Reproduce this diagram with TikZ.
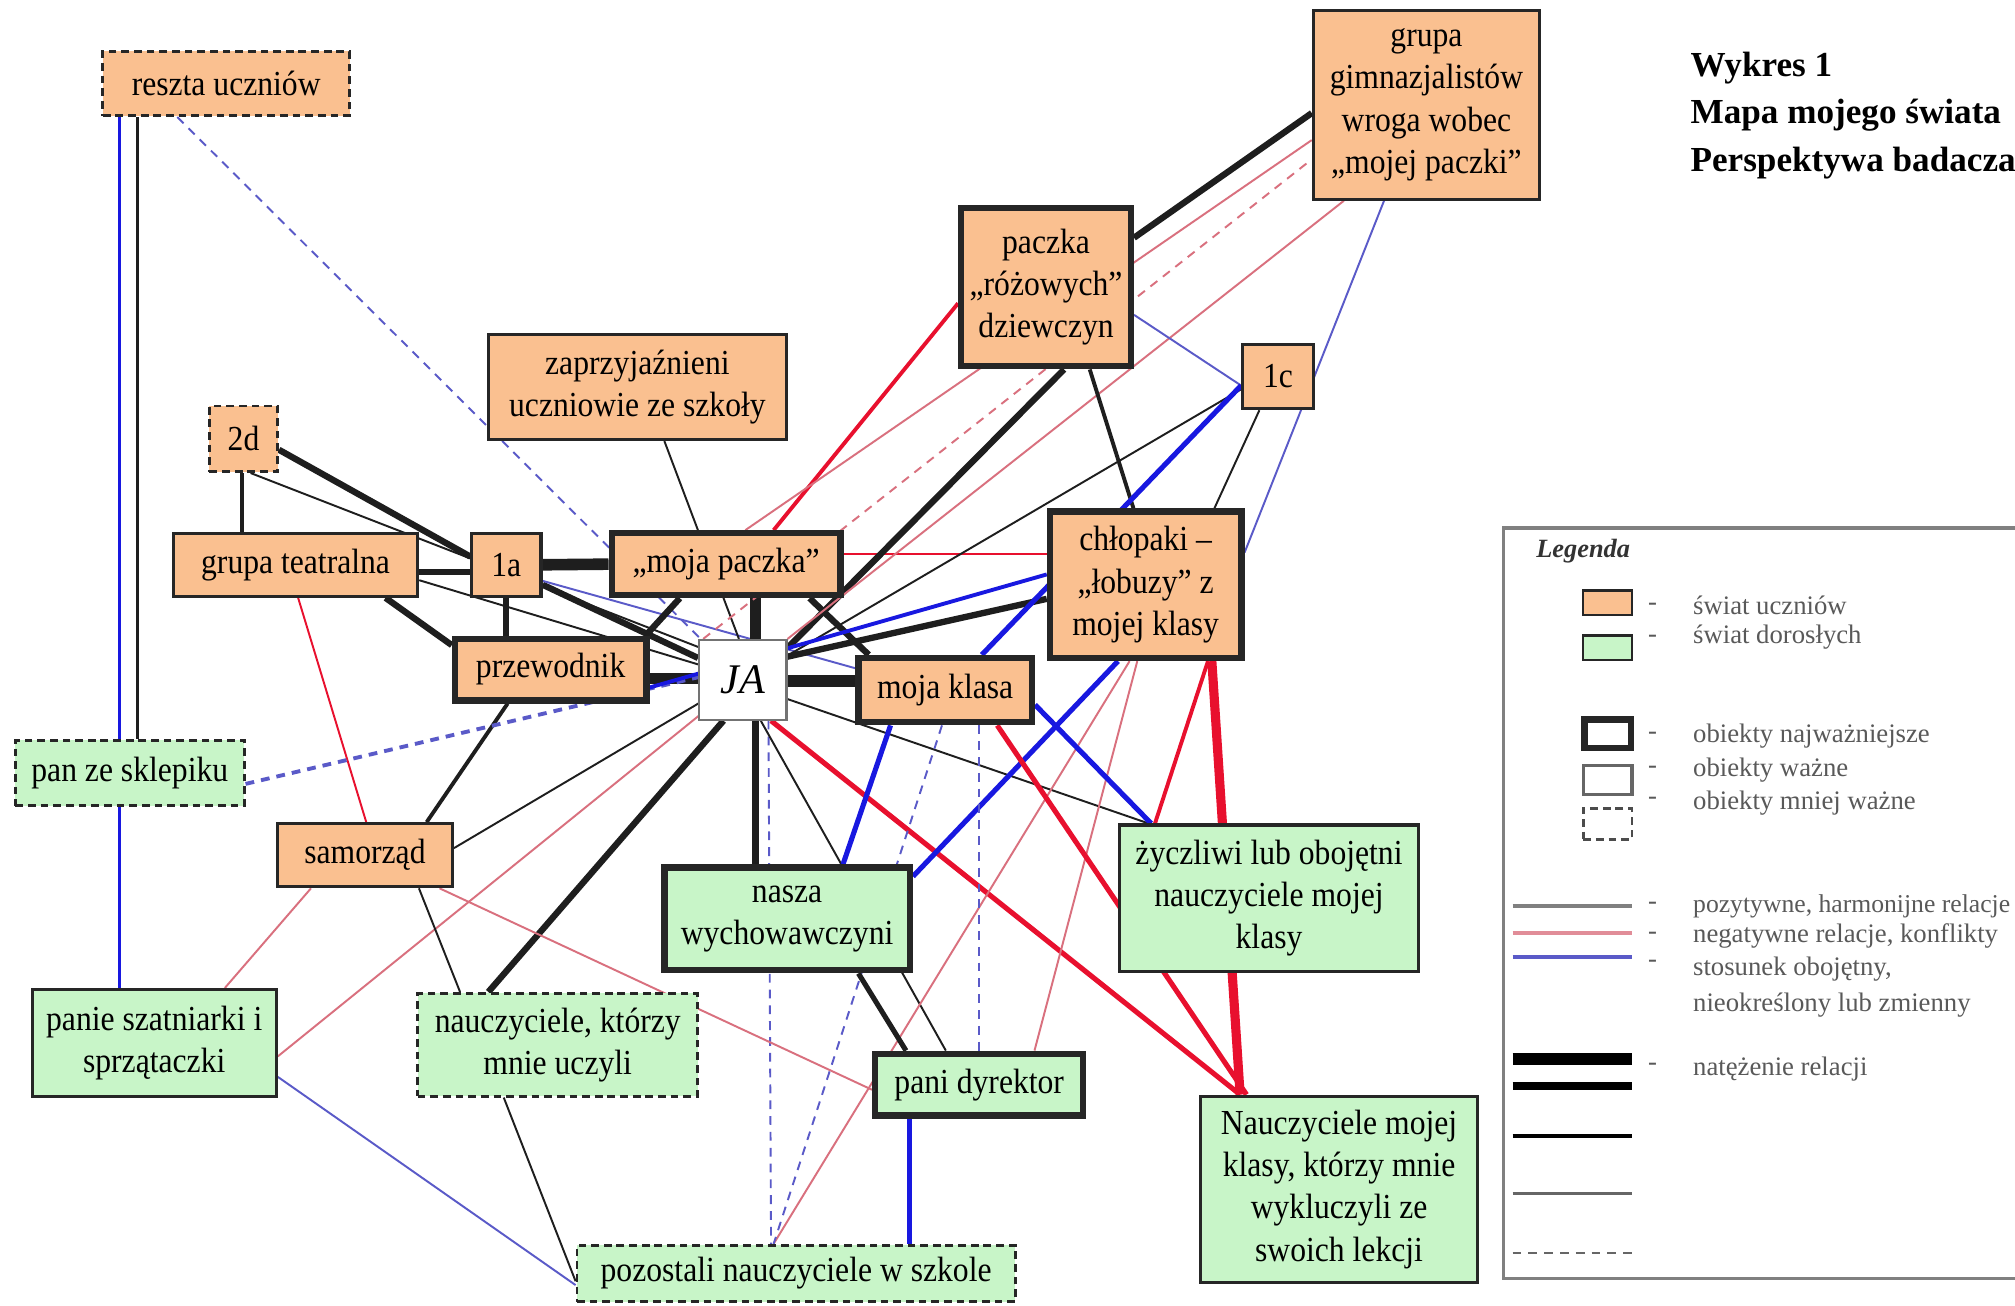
\documentclass[tikz,border=0pt]{standalone}
\usepackage{fontspec}
\setmainfont{Liberation Serif}
\newfontfamily\boxfont{Liberation Serif}[FakeStretch=0.9]
\usetikzlibrary{calc,backgrounds}
\definecolor{pomarancz}{HTML}{FAC090}
\definecolor{zielen}{HTML}{C8F5C8}
\definecolor{posgray}{HTML}{1E1E1E}
\definecolor{negred}{HTML}{E8102E}
\definecolor{negpink}{HTML}{D9707E}
\definecolor{obblue}{HTML}{1818E0}
\definecolor{oblight}{HTML}{5A5AC8}
\tikzset{
     obj/.style={draw=black!85, align=center, inner sep=1pt, font=\boxfont, text=black},
     ucz/.style={obj, fill=pomarancz},
     dor/.style={obj, fill=zielen},
     najw/.style={line width=1.8pt},
     waz/.style={line width=0.9pt},
     mniej/.style={line width=0.8pt, dash pattern=on 2.2pt off 1.4pt},
     sz/.style 2 args={minimum width=#1*0.1285mm, minimum height=#2*0.1285mm},
     poz/.style={draw=posgray},
     neg/.style={draw=negred},
     negl/.style={draw=negpink},
     obo/.style={draw=obblue},
     obol/.style={draw=oblight},
     cienka/.style={line width=0.55pt},
     srednia/.style={line width=1.1pt},
     mocna/.style={line width=1.45pt},
     gruba/.style={line width=1.8pt},
     xgruba/.style={line width=2.6pt},
     bgruba/.style={line width=3.3pt},
     przer/.style={dash pattern=on 2.5pt off 2pt},
     leg/.style={anchor=west, inner sep=0pt, font=\fontsize{7.6}{9.1}\selectfont, text=black!65}
     }

\begin{document}
\begin{tikzpicture}[x=0.1285mm, y=-0.1285mm]
                    \useasboundingbox (0,0) rectangle (1568,1016);
                    \clip (0,0) rectangle (1568,1016);
                    % Place nodes
                    \node[ucz, mniej, sz={192}{50}] (reszta) at (176,65) {reszta uczniów};
                    \node[ucz, waz, sz={176}{147}] (gimn) at (1110,81.5) {grupa\\gimnazjalistów\\wroga wobec\\„mojej paczki”};
                    \node[ucz, najw, sz={132}{123}] (rozowe) at (814,223.5) {paczka\\„różowych”\\dziewczyn};
                    \node[ucz, waz, sz={232}{82}] (zaprz) at (496,301) {zaprzyjaźnieni\\uczniowie ze szkoły};
                    \node[ucz, waz, sz={55}{50}] (k1c) at (994.5,293) {1c};
                    \node[ucz, mniej, sz={53}{51}] (k2d) at (189.5,341.5) {2d};
                    \node[ucz, waz, sz={190}{49}] (teatr) at (230,439.5) {grupa teatralna};
                    \node[ucz, waz, sz={54}{49}] (k1a) at (394,439.5) {1a};
                    \node[ucz, najw, sz={178}{48}] (paczka) at (565,439) {„moja paczka”};
                    \node[ucz, najw, sz={149}{114}] (lobuzy) at (891.5,455) {chłopaki –\\„łobuzy” z\\mojej klasy};
                    \node[ucz, najw, sz={149}{48}] (przew) at (428.5,521) {przewodnik};
                    \node[obj, fill=white, draw=black!55, line width=0.6pt, sz={68}{62}, font=\fontsize{12}{14}\selectfont\itshape] (ja) at (578,529) {JA};
                    \node[ucz, najw, sz={135}{50}] (klasa) at (735.5,537) {moja klasa};
                    \node[dor, mniej, sz={178}{51}] (sklep) at (101,601.5) {pan ze sklepiku};
                    \node[ucz, waz, sz={136}{49}] (samorz) at (284,665.5) {samorząd};
                    \node[dor, najw, sz={191}{80}] (wych) at (612.5,715) {nasza\\wychowawczyni};
                    \node[dor, waz, sz={233}{114}] (zycz) at (987.5,699) {życzliwi lub obojętni\\nauczyciele mojej\\klasy};
                    \node[dor, waz, sz={190}{83}] (szatn) at (120,811.5) {panie szatniarki i\\sprzątaczki};
                    \node[dor, mniej, sz={218}{80}] (uczyli) at (434,813) {nauczyciele, którzy\\mnie uczyli};
                    \node[dor, najw, sz={162}{48}] (dyr) at (762,844) {pani dyrektor};
                    \node[dor, waz, sz={216}{145}] (wykl) at (1042,925.5) {Nauczyciele mojej\\klasy, którzy mnie\\wykluczyli ze\\swoich lekcji};
                    \node[dor, mniej, sz={341}{44}] (pozost) at (619.5,991) {pozostali nauczyciele w szkole};
                    % Title
                    \node[anchor=north west, inner sep=0pt, align=left, font=\bfseries\fontsize{10}{13.5}\selectfont] (tytul) at (1315,40) {Wykres 1\\Mapa mojego świata\\Perspektywa badacza};
                    % Draw edges
                    \begin{pgfonlayer}{background}
                    \fill[white] (0,0) rectangle (1568,1016);
                    % reszta uczniow, 2d, grupa teatralna
                    \draw[poz,srednia] ($(reszta.south)+(-69,0)$) -- ($(sklep.north)+(6,0)$);
                    \draw[obo,srednia] ($(reszta.south)+(-83,0)$) -- ($(szatn.north)+(-27,0)$);
                    \draw[obol,cienka,przer] ($(reszta.south)+(-38,0)$) -- ($(ja.north west)+(2,0)$);
                    \draw[poz,srednia] ($(k2d.south)+(-1.5,0)$) -- ($(teatr.north)+(-42,0)$);
                    \draw[poz,gruba] ($(k2d.east)+(0,8.5)$) -- ($(k1a.west)+(0,-6.5)$);
                    \draw[poz,cienka] ($(k2d.south)+(5.5,0)$) -- ($(ja.north west)+(2,7)$);
                    \draw[poz,gruba] ($(teatr.east)+(0,5.5)$) -- ($(k1a.west)+(0,5.5)$);
                    \draw[poz,gruba] ($(teatr.south)+(70,0)$) -- ($(przew.west)+(0,-19)$);
                    \draw[poz,cienka] ($(teatr.east)+(0,12)$) -- ($(ja.west)+(0,-12)$);
                    \draw[neg,cienka] ($(teatr.south)+(2,0)$) -- ($(samorz.north)+(1,0)$);
                    % 1a, moja paczka
                    \draw[poz,bgruba] (k1a.east) -- (paczka.west);
                    \draw[poz,gruba] (k1a.south) -- ($(przew.north)+(-34.5,0)$);
                    \draw[poz,gruba] ($(k1a.east)+(0,15.5)$) -- ($(ja.west)+(0,-17)$);
                    \draw[obol,cienka] ($(k1a.east)+(0,12.5)$) -- ($(klasa.west)+(0,-17)$);
                    \draw[poz,gruba] ($(paczka.south)+(-36,0)$) -- ($(przew.north east)+(-3,0)$);
                    \draw[poz,bgruba] ($(paczka.south)+(23,0)$) -- ($(ja.north)+(10,0)$);
                    \draw[poz,gruba] ($(paczka.south)+(65,0)$) -- ($(klasa.north)+(-59.5,0)$);
                    \draw[neg,cienka] ($(paczka.east)+(0,-8)$) -- ($(lobuzy.west)+(0,-24)$);
                    \draw[neg,srednia] ($(paczka.north)+(37,0)$) -- ($(rozowe.west)+(0,12.5)$);
                    \draw[negl,cienka] ($(paczka.north)+(15,0)$) -- ($(gimn.west)+(0,27.5)$);
                    \draw[poz,cienka] ($(zaprz.south)+(21,0)$) -- ($(ja.north)+(-3,0)$);
                    % JA
                    \draw[poz,bgruba] ($(przew.east)+(0,7)$) -- ($(ja.west)+(0,-1)$);
                    \draw[poz,bgruba] ($(ja.east)+(0,1)$) -- ($(klasa.west)+(0,-7)$);
                    \draw[poz,srednia] ($(przew.south)+(-33.5,0)$) -- ($(samorz.north)+(48,0)$);
                    \draw[obol,srednia,przer] ($(sklep.east)+(0,8.5)$) -- ($(ja.west)+(0,-2)$);
                    \draw[poz,cienka] ($(ja.west)+(1,18)$) -- ($(samorz.east)+(0,-5.5)$);
                    \draw[negl,cienka] ($(ja.south west)+(2,-5)$) -- ($(szatn.east)+(0,10.5)$);
                    \draw[poz,gruba] ($(ja.south)+(-15,0)$) -- ($(uczyli.north)+(-54,0)$);
                    \draw[poz,gruba] ($(ja.south)+(10,0)$) -- ($(wych.north)+(-24.5,0)$);
                    \draw[obol,cienka,przer] ($(ja.south)+(20,0)$) -- ($(pozost.north)+(-19.5,0)$);
                    \draw[poz,cienka] ($(ja.south)+(14,0)$) -- ($(dyr.north)+(-26,0)$);
                    \draw[neg,mocna] ($(ja.south)+(22,0)$) -- ($(wykl.north)+(-77,0)$);
                    \draw[poz,cienka] ($(ja.east)+(0,15)$) -- ($(zycz.north west)+(24,0)$);
                    \draw[poz,gruba] ($(ja.north east)+(0,7)$) -- ($(rozowe.south)+(14,0)$);
                    \draw[poz,gruba] ($(ja.east)+(0,-18)$) -- ($(lobuzy.west)+(0,11)$);
                    \draw[poz,cienka] ($(ja.north east)+(0,13)$) -- ($(k1c.west)+(0,10)$);
                    \draw[negl,cienka,przer] ($(ja.north west)+(4,0)$) -- ($(gimn.west)+(0,42.5)$);
                    \draw[negl,cienka] (ja.north east) -- ($(gimn.south west)+(25,0)$);
                    % paczka rozowych, gimnazjalisci, 1c
                    \draw[poz,gruba] ($(rozowe.east)+(0,-38.5)$) -- ($(gimn.west)+(0,6.5)$);
                    \draw[obol,cienka] ($(rozowe.east)+(0,21.5)$) -- ($(k1c.west)+(0,7)$);
                    \draw[poz,srednia] ($(rozowe.south)+(34,0)$) -- ($(lobuzy.north)+(-9.5,0)$);
                    \draw[obol,cienka] ($(gimn.south)+(-33,0)$) -- ($(lobuzy.east)+(0,-25)$);
                    \draw[poz,cienka] ($(k1c.south)+(-14.5,0)$) -- ($(lobuzy.north)+(53.5,0)$);
                    \draw[obo,mocna] ($(k1c.west)+(0,7)$) -- ($(klasa.north)+(28.5,0)$);
                    % chlopaki
                    \draw[obo,srednia] ($(lobuzy.west)+(0,-8)$) -- ($(przew.east)+(0,14)$);
                    \draw[obo,mocna] ($(lobuzy.south)+(-21.5,0)$) -- ($(wych.east)+(0,-33)$);
                    \draw[negl,cienka] ($(lobuzy.south)+(-6.5,0)$) -- ($(dyr.north)+(43,0)$);
                    \draw[negl,cienka] ($(lobuzy.south)+(-12.5,0)$) -- ($(pozost.north)+(-17.5,0)$);
                    \draw[neg,srednia] ($(lobuzy.south)+(48.5,0)$) -- ($(zycz.north west)+(29,0)$);
                    \draw[neg,xgruba] ($(lobuzy.south)+(51.5,0)$) -- ($(wykl.north)+(-77,0)$);
                    % moja klasa
                    \draw[obo,mocna] ($(klasa.south)+(-42.5,0)$) -- ($(wych.north)+(43.5,0)$);
                    \draw[obol,cienka,przer] ($(klasa.south)+(-2.5,0)$) -- ($(pozost.north)+(-17.5,0)$);
                    \draw[obol,cienka,przer] ($(klasa.south)+(26.5,0)$) -- (dyr.north);
                    \draw[neg,mocna] ($(klasa.south)+(40.5,0)$) -- ($(wykl.north)+(-72,0)$);
                    \draw[obo,mocna] ($(klasa.south east)+(0,-16)$) -- ($(zycz.north west)+(26,0)$);
                    % swiat doroslych
                    \draw[poz,mocna] ($(wych.south)+(55.5,0)$) -- ($(dyr.north)+(-57,0)$);
                    \draw[obo,mocna] ($(dyr.south)+(-54,0)$) -- ($(pozost.north)+(88.5,0)$);
                    \draw[negl,cienka] ($(samorz.south)+(-42,0)$) -- ($(szatn.north)+(55,0)$);
                    \draw[poz,cienka] ($(samorz.south)+(42,0)$) -- ($(uczyli.north)+(-76,0)$);
                    \draw[negl,cienka] ($(samorz.south)+(58,0)$) -- ($(dyr.west)+(0,4)$);
                    \draw[poz,cienka] ($(uczyli.south)+(-42,0)$) -- ($(pozost.west)+(0,6)$);
                    \draw[obol,cienka] ($(szatn.east)+(0,26.5)$) -- ($(pozost.west)+(0,9)$);
                    \end{pgfonlayer}
                    % Legend
                    \draw[black!50, line width=1pt] (1600,411) -- (1170,411) -- (1170,995) -- (1600,995);
                    \node[leg, font=\fontsize{7.5}{9}\selectfont\bfseries\itshape, text=black!80] (legenda) at (1195,429) {Legenda};
                    \node[ucz, line width=0.6pt, sz={38}{19}] (lu) at (1251,469) {};
                    \node[dor, line width=0.6pt, sz={38}{19}] (ld) at (1251,504) {};
                    \node[obj, najw, fill=white, sz={36}{22}] (ln) at (1251,571) {};
                    \node[obj, waz, fill=white, draw=black!60, sz={38}{22}] (lw) at (1251,607) {};
                    \node[obj, mniej, draw=black!70, sz={38}{24}] (lm) at (1251,641) {};
                    \foreach \y [count=\i] in {472,497,573,599,623,705,728,750,830}
                         \node[leg] (kreska\i) at (1282,\y) {-};
                    \node[leg] (t1) at (1317,471) {świat uczniów};
                    \node[leg] (t2) at (1317,496) {świat dorosłych};
                    \node[leg] (t3) at (1317,573) {obiekty najważniejsze};
                    \node[leg] (t4) at (1317,599) {obiekty ważne};
                    \node[leg] (t5) at (1317,625) {obiekty mniej ważne};
                    \node[leg, font=\fontsize{7.3}{9}\selectfont] (t6) at (1317,705) {pozytywne, harmonijne relacje};
                    \node[leg] (t7) at (1317,728) {negatywne relacje, konflikty};
                    \node[leg] (t8) at (1317,754) {stosunek obojętny,};
                    \node[leg] (t9) at (1317,782) {nieokreślony lub zmienny};
                    \node[leg] (t10) at (1317,832) {natężenie relacji};
                    \draw[black!50, line width=1pt] (1177,705) -- ++(93,0);
                    \draw[negpink!80!white, line width=1.2pt] (1177,726) -- ++(93,0);
                    \draw[oblight, line width=1.2pt] (1177,745) -- ++(93,0);
                    \draw[black, line width=3.6pt] (1177,824) -- ++(93,0);
                    \draw[black, line width=2.2pt] (1177,845) -- ++(93,0);
                    \draw[black, line width=1.1pt] (1177,884) -- ++(93,0);
                    \draw[black!60, line width=0.8pt] (1177,929) -- ++(93,0);
                    \draw[black!60, line width=0.8pt, przer] (1177,975) -- ++(93,0);
                \end{tikzpicture}
\end{document}
